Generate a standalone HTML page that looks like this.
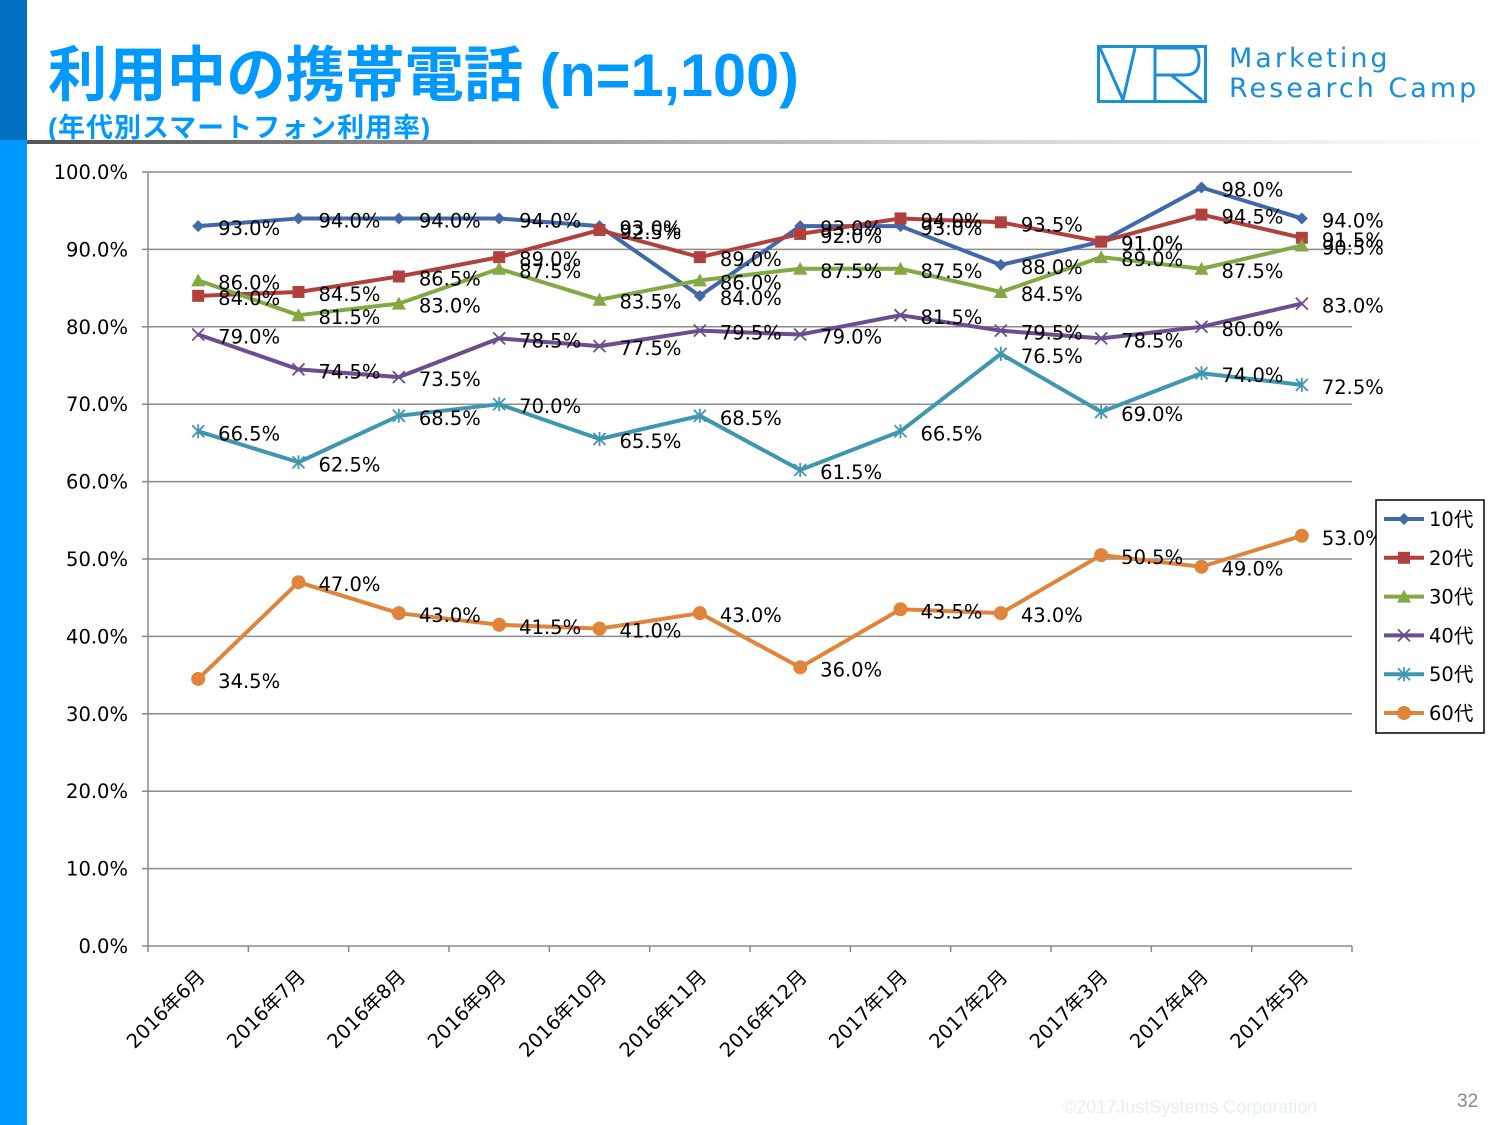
<!DOCTYPE html>
<html><head><meta charset="utf-8"><style>
body{margin:0;width:1500px;height:1125px;background:#fff;position:relative;overflow:hidden;font-family:"Liberation Sans","Noto Sans CJK JP",sans-serif}
svg text{font-family:"DejaVu Sans","Noto Sans CJK JP",sans-serif}
</style></head><body>
<div style="position:absolute;left:0;top:0;width:27px;height:140px;background:#0070C0"></div>
<div style="position:absolute;left:0;top:140px;width:27px;height:985px;background:#0099FF"></div>
<div style="position:absolute;left:48px;top:27px;font-size:60px;font-weight:bold;color:#0099FF;white-space:nowrap;transform-origin:0 0;transform:scale(0.99,1)">利用中の携帯電話 (n=1,100)</div>
<div style="position:absolute;left:48px;top:106px;font-size:27px;font-weight:bold;color:#0099FF;white-space:nowrap;letter-spacing:1px">(年代別スマートフォン利用率)</div>
<div style="position:absolute;left:27px;top:140px;width:1470px;height:4px;background:linear-gradient(to right,#555,#ccc 60%,#fff)"></div>
<svg style="position:absolute;left:1097px;top:45px" width="110" height="58" viewBox="0 0 110 58">
<rect x="1.5" y="1.5" width="107" height="55" fill="none" stroke="#1a8ed6" stroke-width="3"/>
<path d="M3 3 L26 55 L38 3 M58 3 V55 M58 3 H95 Q102 3 102 16 Q102 30 88 30 H58 M74 30 L105 55" fill="none" stroke="#1a8ed6" stroke-width="3"/>
</svg>
<div style="position:absolute;left:1229px;top:44px;font-size:27px;color:#1a8ed6;letter-spacing:3px;line-height:30px;font-family:'DejaVu Sans',sans-serif">Marketing<br>Research Camp</div>
<svg id="chart" style="position:absolute;left:0;top:0" width="1500" height="1125"></svg>
<div style="position:absolute;left:1063px;top:1097px;font-size:18px;color:#e6eef5">©2017JustSystems Corporation</div>
<div style="position:absolute;left:1457px;top:1091px;font-size:19px;color:#888">32</div>
<script>
const categories=["2016年6月","2016年7月","2016年8月","2016年9月","2016年10月","2016年11月","2016年12月","2017年1月","2017年2月","2017年3月","2017年4月","2017年5月"];
const seriesNames=["10代","20代","30代","40代","50代","60代"];
const s10=[93,94,94,94,93,84,93,93,88,91,98,94];
const s20=[84,84.5,86.5,89,92.5,89,92,94,93.5,91,94.5,91.5];
const s30=[86,81.5,83,87.5,83.5,86,87.5,87.5,84.5,89,87.5,90.5];
const s40=[79,74.5,73.5,78.5,77.5,79.5,79,81.5,79.5,78.5,80,83];
const s50=[66.5,62.5,68.5,70,65.5,68.5,61.5,66.5,76.5,69,74,72.5];
const s60=[34.5,47,43,41.5,41,43,36,43.5,43,50.5,49,53];
const yTicks=[0,10,20,30,40,50,60,70,80,90,100];
const colors=["#4168A8","#B0413E","#84A844","#6B4E8E","#3E97AE","#E0843A"];
const markers=["diamond","square","triangle","x","star","circle"];
const allSeries=[s10,s20,s30,s40,s50,s60];
const NS="http://www.w3.org/2000/svg";
const svg=document.getElementById('chart');
const L=148,R=1352,T=172,B=946;
const step=(R-L)/categories.length;
const xs=i=>L+step*(i+0.5);
const ys=v=>B-(v/100)*(B-T);
function mk(tag,a,p){const e=document.createElementNS(NS,tag);for(const k in a)e.setAttribute(k,a[k]);(p||svg).appendChild(e);return e;}
yTicks.forEach(t=>{
 const g=mk('line',{x1:L,x2:R,y1:ys(t),y2:ys(t),stroke:'#8c8c8c','stroke-width':1.5});
 
 
 mk('line',{x1:L-6,x2:L,y1:ys(t),y2:ys(t),stroke:'#888','stroke-width':1.5});
 const tx=mk('text',{x:L-20,y:ys(t)+7,'text-anchor':'end','font-size':19.5,fill:'#000'});
 tx.textContent=t.toFixed(1)+'%';
 
 
});
mk('line',{x1:L,x2:L,y1:T,y2:B,stroke:'#888','stroke-width':1.5});
categories.forEach((c,i)=>{
 mk('line',{x1:L+step*i,x2:L+step*i,y1:B,y2:B+6,stroke:'#888','stroke-width':1.5});
 const x=xs(i)+8,y=B+32;
 const tx=mk('text',{x:x,y:y,'text-anchor':'end','font-size':19.5,transform:`rotate(-45 ${x} ${y})`});
 tx.textContent=c;
 
 
});
mk('line',{x1:R,x2:R,y1:B,y2:B+6,stroke:'#888','stroke-width':1.5});
function marker(type,x,y,col,p){
 let e;
 if(type==='diamond')e=mk('path',{d:`M${x} ${y-6}L${x+6} ${y}L${x} ${y+6}L${x-6} ${y}Z`,fill:col},p);
 else if(type==='square')e=mk('rect',{x:x-6,y:y-6,width:12,height:12,fill:col},p);
 else if(type==='triangle')e=mk('path',{d:`M${x} ${y-7}L${x+7} ${y+6}L${x-7} ${y+6}Z`,fill:col},p);
 else if(type==='x')e=mk('path',{d:`M${x-6} ${y-6}L${x+6} ${y+6}M${x+6} ${y-6}L${x-6} ${y+6}`,stroke:col,'stroke-width':1.8,fill:'none'},p);
 else if(type==='star')e=mk('path',{d:`M${x-6} ${y-6}L${x+6} ${y+6}M${x+6} ${y-6}L${x-6} ${y+6}M${x} ${y-7}V${y+7}`,stroke:col,'stroke-width':1.8,fill:'none'},p);
 else e=mk('circle',{cx:x,cy:y,r:7,fill:col},p);
 return e;
}
allSeries.forEach((s,k)=>{
 const g=mk('g',{});
 
 
 const pl=mk('polyline',{points:s.map((v,i)=>xs(i)+','+ys(v)).join(' '),fill:'none',stroke:colors[k],'stroke-width':4,'stroke-linejoin':'round'},g);
 
 
 s.forEach((v,i)=>{
  const m=marker(markers[k],xs(i),ys(v),colors[k],g);
  
  
 });
});
allSeries.forEach((s,k)=>{
 s.forEach((v,i)=>{
  const tx=mk('text',{x:xs(i)+20,y:ys(v)+9,'font-size':19.5,fill:'#000'});
  tx.textContent=v.toFixed(1)+'%';
  
  
 });
});
const lg=mk('g',{});


mk('rect',{x:1376,y:500,width:108,height:233,fill:'#fff',stroke:'#000','stroke-width':1.5},lg);
seriesNames.forEach((n,k)=>{
 const y=519+k*38.8;
 const it=mk('g',{},lg);
 
 
 mk('line',{x1:1384,x2:1424,y1:y,y2:y,stroke:colors[k],'stroke-width':4},it);
 marker(markers[k],1404,y,colors[k],it);
 const t=mk('text',{x:1429,y:y+7,'font-size':19.5},it);
 t.textContent=n;
});
</script>
</body></html>
